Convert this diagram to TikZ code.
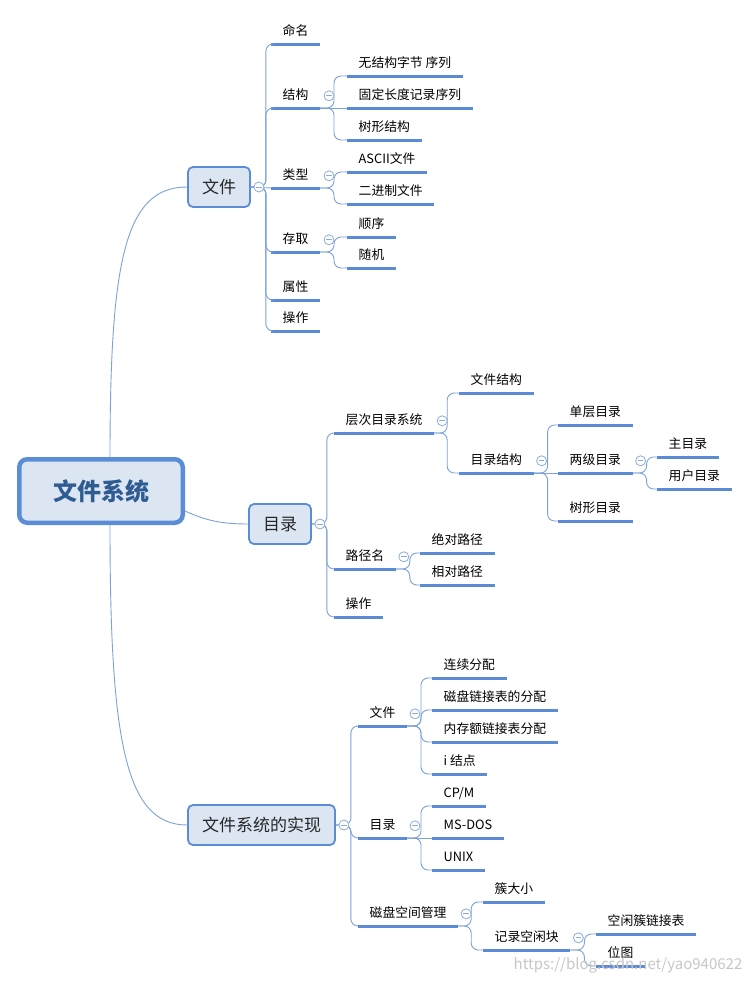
\documentclass[tikz,border=0pt]{standalone}
\usepackage{fontspec}
\setmainfont{Noto Sans CJK SC}
\usepackage{tikz}
\definecolor{lineblue}{HTML}{5B8BD4}
\definecolor{linkblue}{HTML}{7BA3DC}
\definecolor{boxblue}{HTML}{5A8DD5}
\definecolor{boxfill}{HTML}{DCE6F2}
\definecolor{rootblue}{HTML}{2F5B93}
\definecolor{foldblue}{HTML}{8CADDB}

\begin{document}
\begin{tikzpicture}[
  x=1pt,y=-1pt,
  root/.style={draw=boxblue,line width=4.5pt,fill=boxfill,rounded corners=8pt,minimum width=163.5pt,minimum height=63.5pt,text=rootblue,font=\fontsize{24}{28}\selectfont\bfseries},
  main/.style={draw=boxblue,line width=1.8pt,fill=boxfill,rounded corners=5pt,minimum height=40pt,inner xsep=14pt,text=black!85,font=\fontsize{17}{20}\selectfont},
  uline/.style={draw=lineblue,line width=3pt},
  topic/.style={anchor=south west,inner xsep=11.5pt,inner ysep=5.5pt,text height=10pt,text depth=3pt,font=\fontsize{12.8}{15}\selectfont,
    append after command={(\tikzlastnode.south west) edge[uline] (\tikzlastnode.south east)}},
  link/.style={draw=linkblue,line width=0.9pt,rounded corners=7pt},
  branch/.style={to path={-- ++(#1,0) |- (\tikztotarget)}},
  fold/.style={circle,draw=foldblue,fill=white,line width=0.8pt,minimum size=10pt,inner sep=0pt,
    path picture={\draw[foldblue,line width=0.8pt] ([xshift=-2.8pt]path picture bounding box.center) -- ([xshift=2.8pt]path picture bounding box.center);}},
  watermark/.style={text=black!22,font=\fontsize{15}{18}\selectfont}
]
\useasboundingbox[fill=white] (0,0) rectangle (750,983);

\node[root] (fs) at (101,491) {文件系统};
\node[main] (file) at (219,187) {文件};
\node[main] (dir) at (280,524) {目录};
\node[main] (impl) at (261.5,825) {文件系统的实现};

\node[topic] (f-name) at (271,44) {命名};
\node[topic] (f-struct) at (271,108) {结构};
\node[topic] (f-type) at (271,188) {类型};
\node[topic] (f-access) at (271,252) {存取};
\node[topic] (f-attr) at (271,300) {属性};
\node[topic] (f-op) at (271,331) {操作};
\node[topic] (s-byte) at (347,76) {无结构字节 序列};
\node[topic] (s-rec) at (347,108) {固定长度记录序列};
\node[topic] (s-tree) at (347,140) {树形结构};
\node[topic] (t-ascii) at (347,172) {ASCII文件};
\node[topic] (t-bin) at (347,204) {二进制文件};
\node[topic] (a-seq) at (347,237) {顺序};
\node[topic] (a-rand) at (347,268) {随机};

\node[topic] (d-tree) at (334,433) {层次目录系统};
\node[topic] (d-path) at (334,569) {路径名};
\node[topic] (d-op) at (334,617) {操作};
\node[topic] (h-file) at (459,393) {文件结构};
\node[topic] (h-dir) at (459,473) {目录结构};
\node[topic] (ds-one) at (558,425) {单层目录};
\node[topic] (ds-two) at (558,473) {两级目录};
\node[topic] (ds-tree) at (558,521) {树形目录};
\node[topic] (two-main) at (657,457) {主目录};
\node[topic] (two-user) at (657,489) {用户目录};
\node[topic] (p-abs) at (420,553) {绝对路径};
\node[topic] (p-rel) at (420,585) {相对路径};

\node[topic] (i-file) at (358,726) {文件};
\node[topic] (i-dir) at (358,838) {目录};
\node[topic] (i-disk) at (358,926) {磁盘空间管理};
\node[topic] (if-cont) at (432,678) {连续分配};
\node[topic] (if-link) at (432,710) {磁盘链接表的分配};
\node[topic] (if-mem) at (432,742) {内存额链接表分配};
\node[topic] (if-inode) at (432,774) {i 结点};
\node[topic] (id-cpm) at (432,806) {CP/M};
\node[topic] (id-dos) at (432,838) {MS-DOS};
\node[topic] (id-unix) at (432,870) {UNIX};
\node[topic] (dk-size) at (483,902) {簇大小};
\node[topic] (dk-free) at (483,950) {记录空闲块};
\node[topic] (fr-list) at (596,934) {空闲簇链接表};
\node[topic] (fr-map) at (596,966) {位图};

\draw[link] ([xshift=9pt]fs.north) .. controls (110,260) and (125,187) .. (file.west);
\draw[link] ([yshift=-20pt]fs.east) .. controls (205,520) and (220,524) .. (dir.west);
\draw[link] ([xshift=9pt]fs.south) .. controls (110,740) and (125,825) .. (impl.west);

\draw[link] (file.east) to[branch=15] (f-name.south west);
\draw[link] (file.east) to[branch=15] (f-struct.south west);
\draw[link] (file.east) -- (f-type.south west);
\draw[link] (file.east) to[branch=15] (f-access.south west);
\draw[link] (file.east) to[branch=15] (f-attr.south west);
\draw[link] (file.east) to[branch=15] (f-op.south west);
\draw[link] (f-struct.south east) to[branch=14] (s-byte.south west);
\draw[link] (f-struct.south east) -- (s-rec.south west);
\draw[link] (f-struct.south east) to[branch=14] (s-tree.south west);
\draw[link] (f-type.south east) to[branch=14] (t-ascii.south west);
\draw[link] (f-type.south east) to[branch=14] (t-bin.south west);
\draw[link] (f-access.south east) to[branch=14] (a-seq.south west);
\draw[link] (f-access.south east) to[branch=14] (a-rand.south west);

\draw[link] (dir.east) to[branch=15] (d-tree.south west);
\draw[link] (dir.east) to[branch=15] (d-path.south west);
\draw[link] (dir.east) to[branch=15] (d-op.south west);
\draw[link] (d-tree.south east) to[branch=13] (h-file.south west);
\draw[link] (d-tree.south east) to[branch=13] (h-dir.south west);
\draw[link] (h-dir.south east) to[branch=14] (ds-one.south west);
\draw[link] (h-dir.south east) -- (ds-two.south west);
\draw[link] (h-dir.south east) to[branch=14] (ds-tree.south west);
\draw[link] (ds-two.south east) to[branch=14] (two-main.south west);
\draw[link] (ds-two.south east) to[branch=14] (two-user.south west);
\draw[link] (d-path.south east) to[branch=14] (p-abs.south west);
\draw[link] (d-path.south east) to[branch=14] (p-rel.south west);

\draw[link] (impl.east) to[branch=15] (i-file.south west);
\draw[link] (impl.east) to[branch=15] (i-dir.south west);
\draw[link] (impl.east) to[branch=15] (i-disk.south west);
\draw[link] (i-file.south east) to[branch=14] (if-cont.south west);
\draw[link] (i-file.south east) to[branch=14] (if-link.south west);
\draw[link] (i-file.south east) to[branch=14] (if-mem.south west);
\draw[link] (i-file.south east) to[branch=14] (if-inode.south west);
\draw[link] (i-dir.south east) to[branch=14] (id-cpm.south west);
\draw[link] (i-dir.south east) -- (id-dos.south west);
\draw[link] (i-dir.south east) to[branch=14] (id-unix.south west);
\draw[link] (i-disk.south east) to[branch=13] (dk-size.south west);
\draw[link] (i-disk.south east) to[branch=13] (dk-free.south west);
\draw[link] (dk-free.south east) to[branch=14] (fr-list.south west);
\draw[link] (dk-free.south east) to[branch=14] (fr-map.south west);

\node[fold] (file-fold) at ([xshift=8pt]file.east) {};
\node[fold] (dir-fold) at ([xshift=8pt]dir.east) {};
\node[fold] (impl-fold) at ([xshift=8pt]impl.east) {};
\node[fold] (struct-fold) at ([xshift=9pt]f-struct.east) {};
\node[fold] (type-fold) at ([xshift=9pt]f-type.east) {};
\node[fold] (access-fold) at ([xshift=9pt]f-access.east) {};
\node[fold] (tree-fold) at ([xshift=8pt]d-tree.east) {};
\node[fold] (hdir-fold) at ([xshift=8pt]h-dir.east) {};
\node[fold] (two-fold) at ([xshift=8pt]ds-two.east) {};
\node[fold] (path-fold) at ([xshift=8pt]d-path.east) {};
\node[fold] (ifile-fold) at ([xshift=8pt]i-file.east) {};
\node[fold] (idir-fold) at ([xshift=8pt]i-dir.east) {};
\node[fold] (disk-fold) at ([xshift=8pt]i-disk.east) {};
\node[fold] (free-fold) at ([xshift=8pt]dk-free.east) {};

\node[watermark] (wm) at (628,965) {https://blog.csdn.net/yao940622};
\end{tikzpicture}
\end{document}
